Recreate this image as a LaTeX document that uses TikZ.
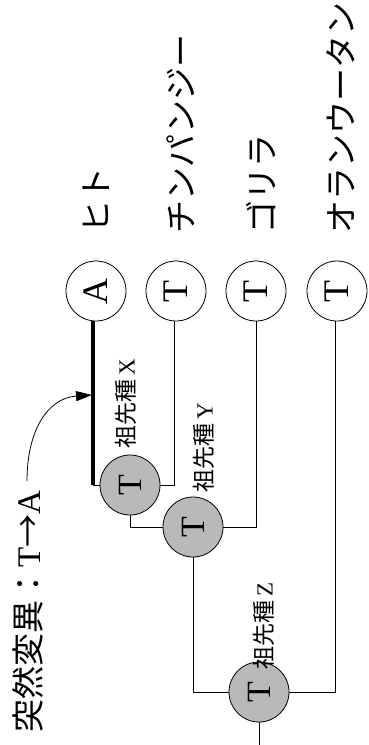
\documentclass[tikz,border=0pt]{standalone}
\usepackage{fontspec}
\setmainfont{Liberation Serif}
\newfontfamily\jp{Noto Sans CJK JP}
\usetikzlibrary{arrows.meta}
\begin{document}
\begin{tikzpicture}[x=1pt,y=-1pt,
  leaf/.style={circle,draw,line width=0.8pt,minimum size=60pt,inner sep=0pt,fill=white,font=\fontsize{36}{36}\selectfont},
  anc/.style={circle,draw,line width=0.8pt,minimum size=60pt,inner sep=0pt,fill=gray!55,font=\fontsize{34}{34}\selectfont},
  edge/.style={line width=0.8pt},
  nm/.style={rotate=90,anchor=west,inner sep=0pt,font=\jp\fontsize{33}{33}\selectfont},
  al/.style={rotate=90,anchor=west,inner sep=0pt,font=\jp\fontsize{23}{23}\selectfont}]
\useasboundingbox (0,0) rectangle (369,745);
% leaves
\node[leaf] (la) at (96,291) {\rotatebox{90}{A}};
\node[leaf] (lb) at (176,291) {\rotatebox{90}{T}};
\node[leaf] (lc) at (256,291) {\rotatebox{90}{T}};
\node[leaf] (ld) at (337,291) {\rotatebox{90}{T}};
% names
\node[nm] (na) at (96,234) {ヒト};
\node[nm] (nb) at (181,234) {チンパンジー};
\node[nm] (nc) at (261,234) {ゴリラ};
\node[nm] (nd) at (341,234) {オランウータン};
% ancestors
\node[anc] (ax) at (130,485) {\rotatebox{90}{T}};
\node[anc] (ay) at (193,527) {\rotatebox{90}{T}};
\node[anc] (az) at (259,692) {\rotatebox{90}{T}};
\coordinate (root) at (259,745);
% edges
\draw[line width=3.2pt] (la.south -| 93,0) -- (93,485);
\draw[edge] (93,485) -- (ax.west);
\draw[edge] (lb.south -| 174,0) |- (ax.east);
\draw[edge] (ax.south) |- (ay.west);
\draw[edge] (lc.south) |- (ay.east);
\draw[edge] (ay.south) |- (az.west);
\draw[edge] (ld.south -| 335,0) |- (az.east);
\draw[edge] (az.south) -- (root);
% ancestor labels
\node[al] (tx) at (126,449) {祖先種\,{\rmfamily X}};
\node[al] (ty) at (204,493) {祖先種\,{\rmfamily Y}};
\node[al] (tz) at (264,670) {祖先種\,{\rmfamily Z}};
% mutation
\node[nm] (mut) at (28,733) {突然変異：{\rmfamily T}→{\rmfamily A}};
\coordinate (hit) at (92,395);
\draw[edge,-{Triangle[length=16pt,width=10pt]}] (27,481) .. controls (27,430) and (48,398) .. (hit);
\end{tikzpicture}
\end{document}
